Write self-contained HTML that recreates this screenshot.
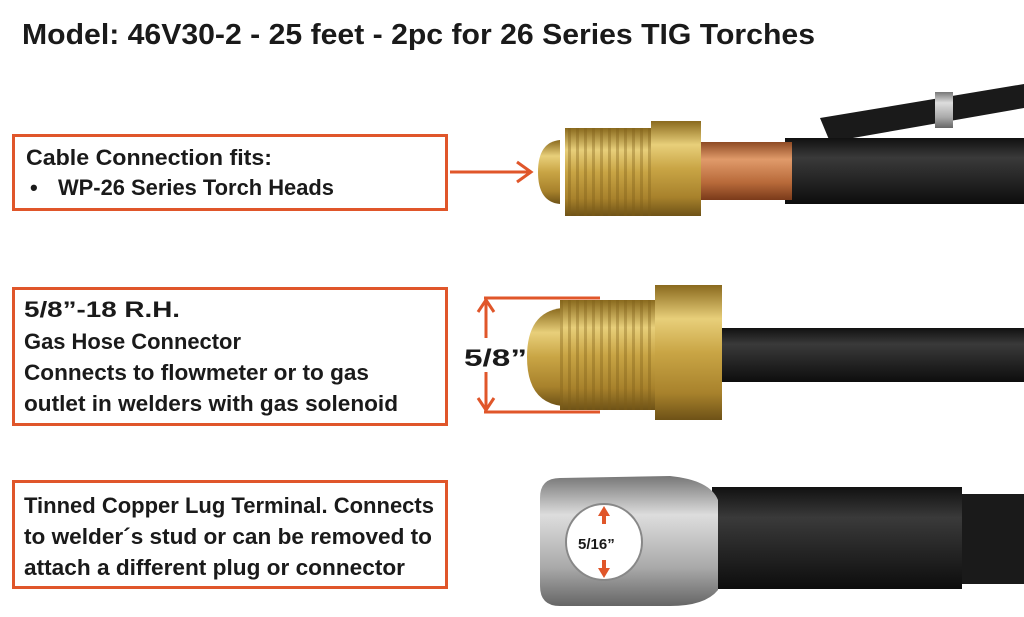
<!DOCTYPE html>
<html><head><meta charset="utf-8"><style>
html,body{margin:0;padding:0;background:#fff;}
svg{display:block;}
text{font-family:"Liberation Sans",sans-serif;font-weight:bold;fill:#1a1a1a;}
</style></head><body>
<svg width="1024" height="617" viewBox="0 0 1024 617" xmlns="http://www.w3.org/2000/svg">
<defs>
<linearGradient id="brass" x1="0" y1="0" x2="0" y2="1">
<stop offset="0" stop-color="#8a6a1e"/><stop offset="0.25" stop-color="#e8cf7a"/><stop offset="0.5" stop-color="#c9a545"/><stop offset="0.8" stop-color="#a8822c"/><stop offset="1" stop-color="#6e5217"/></linearGradient>
<linearGradient id="copper" x1="0" y1="0" x2="0" y2="1">
<stop offset="0" stop-color="#8e4a24"/><stop offset="0.3" stop-color="#e09a6a"/><stop offset="0.7" stop-color="#b86a3a"/><stop offset="1" stop-color="#7a3a1a"/></linearGradient>
<linearGradient id="black" x1="0" y1="0" x2="0" y2="1">
<stop offset="0" stop-color="#111"/><stop offset="0.3" stop-color="#3a3a3a"/><stop offset="1" stop-color="#0d0d0d"/></linearGradient>
<linearGradient id="silver" x1="0" y1="0" x2="0" y2="1">
<stop offset="0" stop-color="#777"/><stop offset="0.3" stop-color="#ddd"/><stop offset="0.7" stop-color="#aaa"/><stop offset="1" stop-color="#666"/></linearGradient>
<pattern id="thread" width="8" height="10" patternUnits="userSpaceOnUse"><rect width="8" height="10" fill="none"/><rect x="0" width="3" height="10" fill="#7a5a18" opacity="0.35"/></pattern>
</defs>

<text x="22" y="44" font-size="29" textLength="793" lengthAdjust="spacingAndGlyphs">Model: 46V30-2 -  25 feet - 2pc for 26 Series TIG Torches</text>

<!-- Box 1 -->
<rect x="13.5" y="135.5" width="433" height="74" fill="none" stroke="#e0562a" stroke-width="3"/>
<text x="26" y="165" font-size="22" textLength="246" lengthAdjust="spacingAndGlyphs">Cable Connection fits:</text>
<text x="30" y="195" font-size="22">•</text>
<text x="58" y="195" font-size="22" textLength="276" lengthAdjust="spacingAndGlyphs">WP-26 Series Torch Heads</text>
<line x1="450" y1="172" x2="530" y2="172" stroke="#e0562a" stroke-width="3"/>
<polyline points="517,162 531,172 517,182" fill="none" stroke="#e0562a" stroke-width="3"/>

<!-- top connector -->
<path d="M820 118 L1024 84 L1024 108 L830 142 Z" fill="#1a1a1a"/>
<rect x="935" y="92" width="18" height="36" fill="url(#silver)"/>
<rect x="785" y="138" width="239" height="66" fill="url(#black)"/>
<rect x="697" y="142" width="95" height="58" fill="url(#copper)"/>
<path d="M560 140 Q538 142 538 172 Q538 202 560 204 Z" fill="url(#brass)"/>
<rect x="565" y="128" width="90" height="88" fill="url(#brass)"/>
<rect x="565" y="128" width="90" height="88" fill="url(#thread)"/>
<rect x="651" y="121" width="50" height="95" fill="url(#brass)"/>

<!-- Box 2 -->
<rect x="13.5" y="288.5" width="433" height="136" fill="none" stroke="#e0562a" stroke-width="3"/>
<text x="24" y="317" font-size="22" textLength="156" lengthAdjust="spacingAndGlyphs">5/8”-18 R.H.</text>
<text x="24" y="349" font-size="22" textLength="217" lengthAdjust="spacingAndGlyphs">Gas Hose Connector</text>
<text x="24" y="380" font-size="22" textLength="345" lengthAdjust="spacingAndGlyphs">Connects to flowmeter or to gas</text>
<text x="24" y="411" font-size="22" textLength="374" lengthAdjust="spacingAndGlyphs">outlet in welders with gas solenoid</text>

<line x1="484" y1="298" x2="600" y2="298" stroke="#e0562a" stroke-width="3"/>
<line x1="484" y1="412" x2="600" y2="412" stroke="#e0562a" stroke-width="3"/>
<line x1="486" y1="300" x2="486" y2="338" stroke="#e0562a" stroke-width="3"/>
<line x1="486" y1="372" x2="486" y2="410" stroke="#e0562a" stroke-width="3"/>
<polyline points="478,312 486,300 494,312" fill="none" stroke="#e0562a" stroke-width="3"/>
<polyline points="478,398 486,410 494,398" fill="none" stroke="#e0562a" stroke-width="3"/>
<text x="464" y="366" font-size="24" textLength="63" lengthAdjust="spacingAndGlyphs">5/8”</text>

<!-- middle connector -->
<rect x="705" y="328" width="319" height="54" fill="url(#black)"/>
<path d="M562 308 Q527 312 527 357 Q527 402 562 406 Z" fill="url(#brass)"/>
<rect x="560" y="300" width="100" height="110" fill="url(#brass)"/>
<rect x="560" y="300" width="100" height="110" fill="url(#thread)"/>
<rect x="655" y="285" width="67" height="135" fill="url(#brass)"/>

<!-- Box 3 -->
<rect x="13.5" y="481.5" width="433" height="106" fill="none" stroke="#e0562a" stroke-width="3"/>
<text x="24" y="513" font-size="22" textLength="410" lengthAdjust="spacingAndGlyphs">Tinned Copper Lug Terminal. Connects</text>
<text x="24" y="544" font-size="22" textLength="408" lengthAdjust="spacingAndGlyphs">to welder´s stud or can be removed to</text>
<text x="24" y="575" font-size="22" textLength="381" lengthAdjust="spacingAndGlyphs">attach a different plug or connector</text>

<!-- lug -->
<rect x="960" y="494" width="64" height="90" fill="#1a1a1a"/>
<rect x="712" y="487" width="250" height="102" fill="url(#black)"/>
<path d="M560 478 L670 476 Q710 480 718 500 L718 590 Q705 606 670 606 L560 606 Q540 606 540 586 L540 498 Q540 478 560 478 Z" fill="url(#silver)"/>
<circle cx="604" cy="542" r="38" fill="#fff" stroke="#888" stroke-width="2"/>
<text x="578" y="549" font-size="15">5/16”</text>
<line x1="604" y1="512" x2="604" y2="524" stroke="#e0562a" stroke-width="4"/>
<polygon points="598,516 604,506 610,516" fill="#e0562a"/>
<line x1="604" y1="560" x2="604" y2="572" stroke="#e0562a" stroke-width="4"/>
<polygon points="598,568 604,578 610,568" fill="#e0562a"/>
</svg>
</body></html>
